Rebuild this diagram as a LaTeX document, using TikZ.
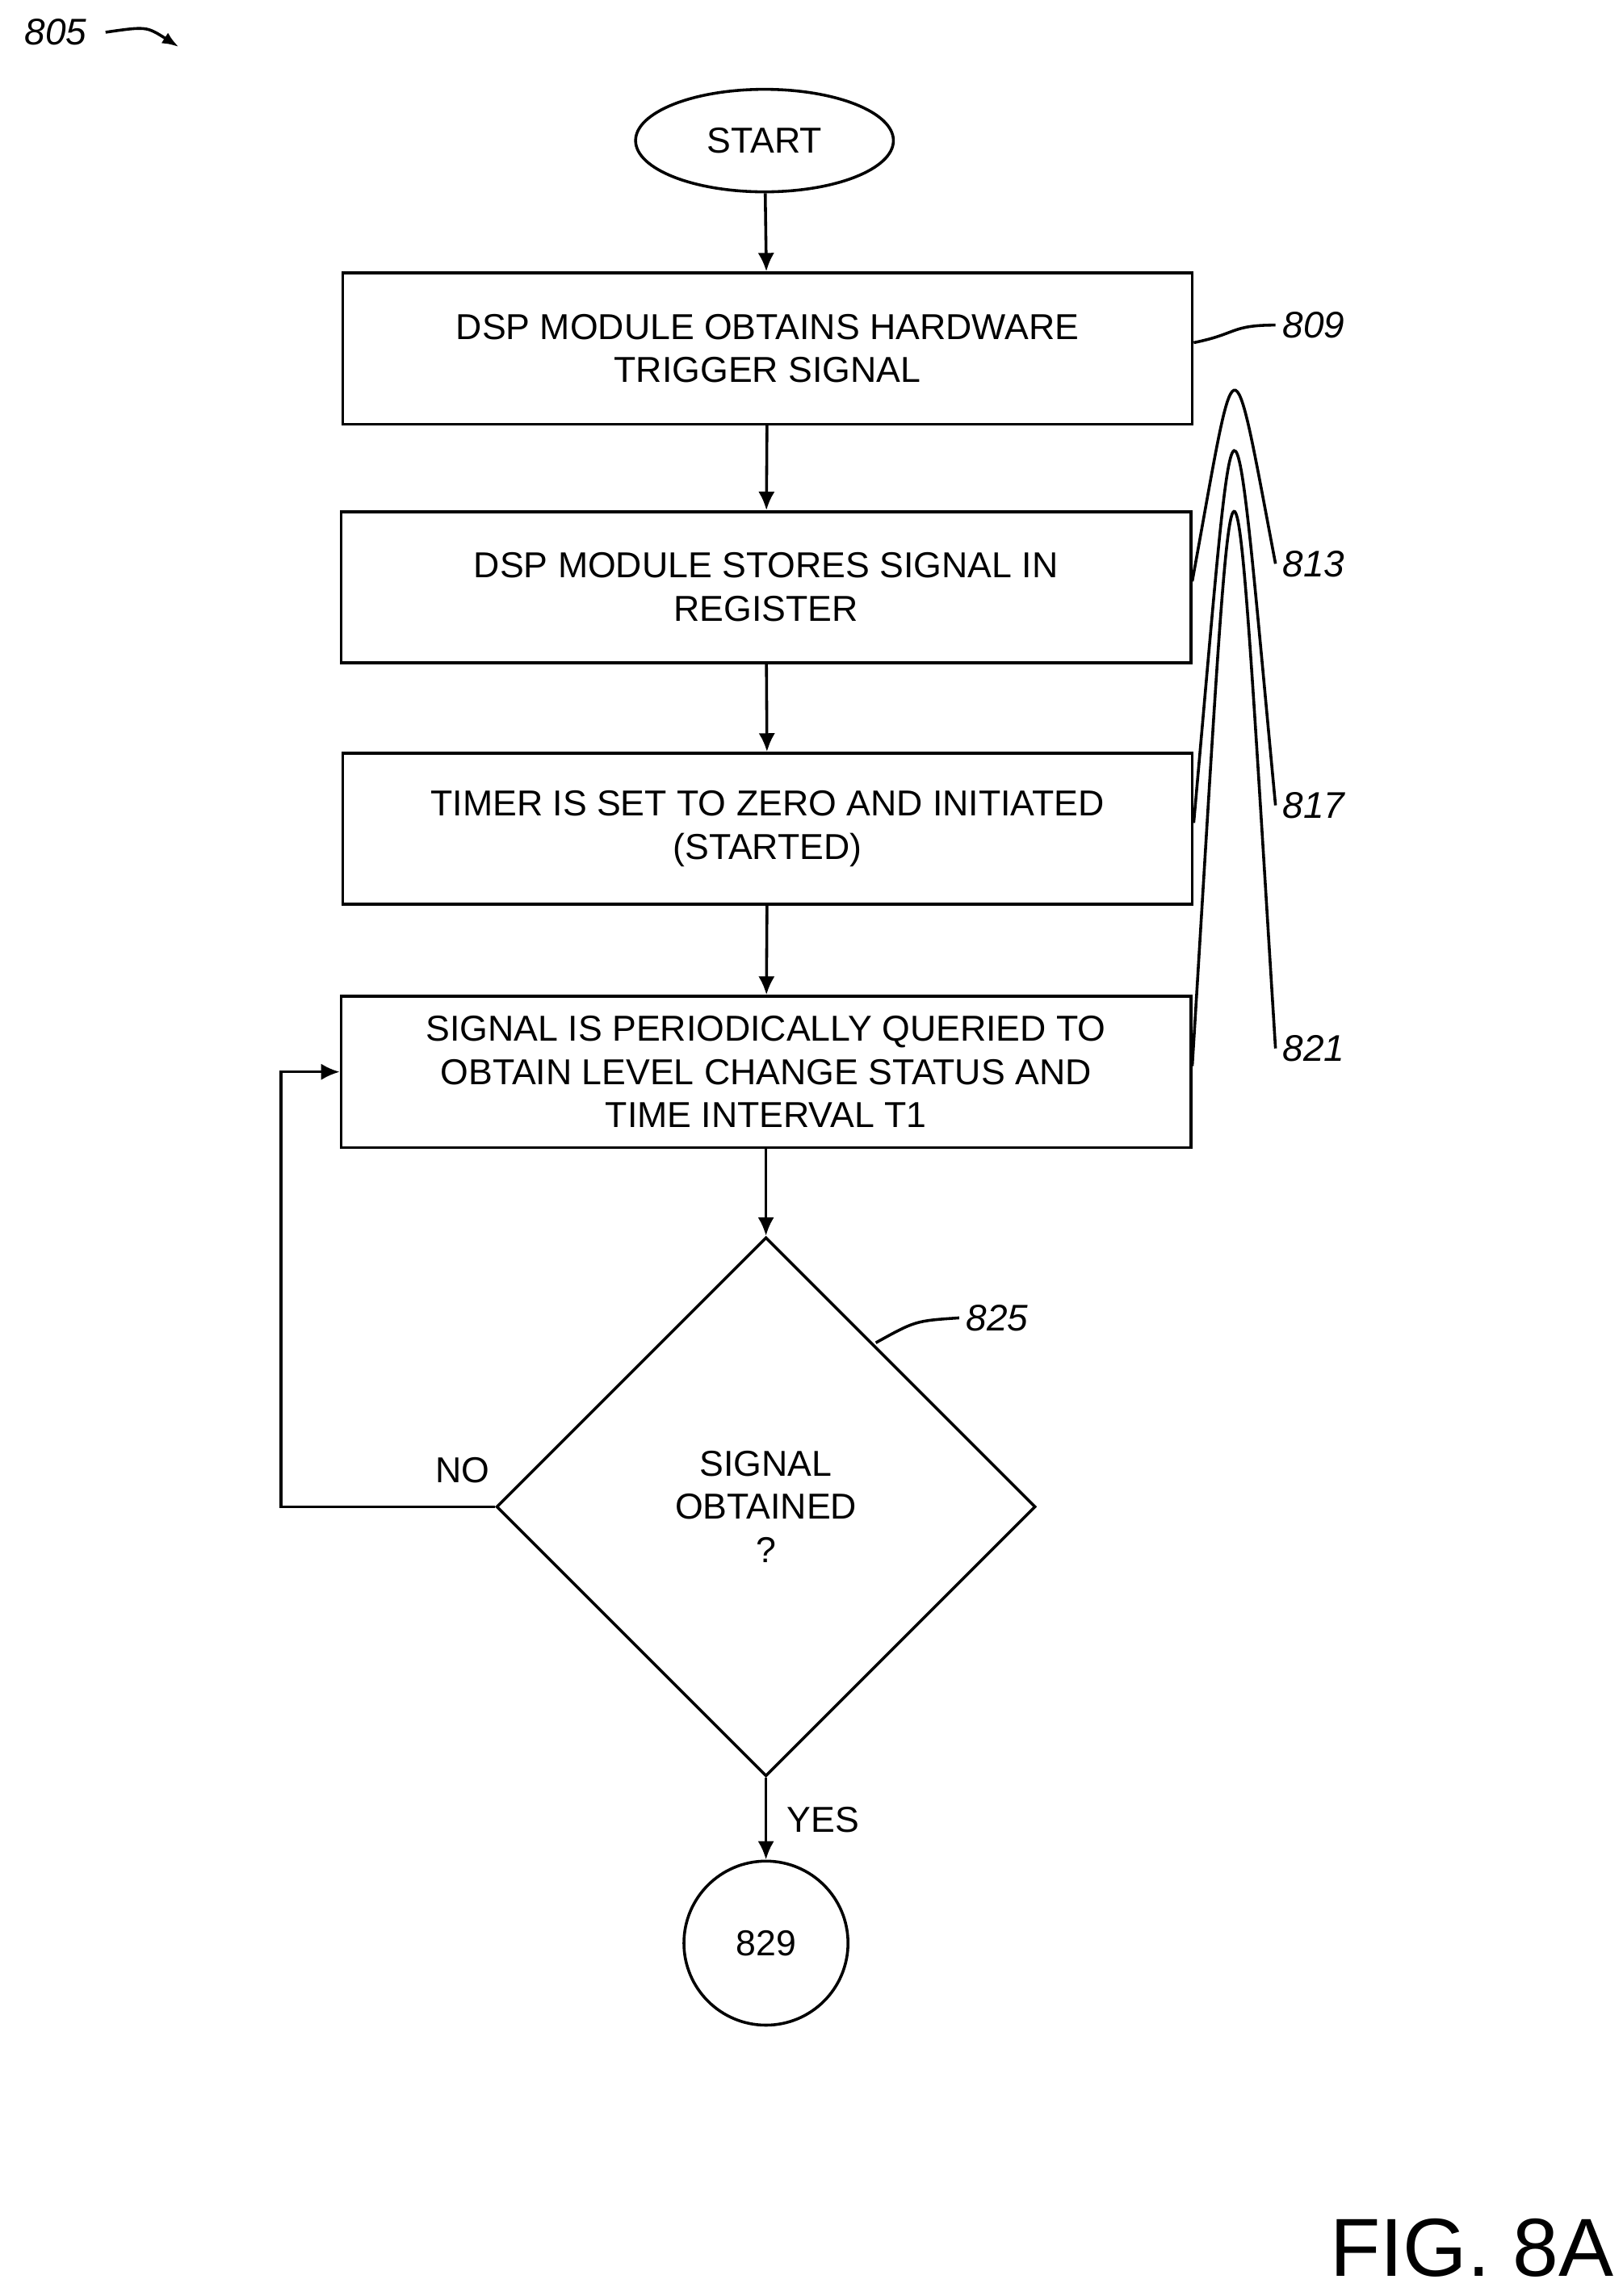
\documentclass[tikz,border=0pt]{standalone}
\usepackage{fontspec}
\setmainfont{Liberation Sans}
\usetikzlibrary{shapes.geometric,positioning,arrows.meta}

\tikzset{
    box/.style={draw, line width=1.4pt, minimum width=14.5cm, minimum height=2.58cm,
        align=center, font=\fontsize{17.5}{21}\selectfont, inner sep=0pt},
    line/.style={line width=1.4pt},
    flow/.style={line, -{Latex[length=9pt,width=8pt]}},
    ref/.style={font=\fontsize{18}{21}\selectfont\itshape},
    lbl/.style={font=\fontsize{17.5}{21}\selectfont}
}

\begin{document}
\begin{tikzpicture}[x=0.025cm, y=-0.025cm]
    \useasboundingbox (0,0) rectangle (1108,1568);

    \node[draw, line width=1.4pt, ellipse, minimum width=4.4cm, minimum height=1.75cm,
        lbl] (start) at (522,96) {START};
    \node[box] (b809) at (524,238) {DSP MODULE OBTAINS HARDWARE\\TRIGGER SIGNAL};
    \node[box] (b813) at (523,401) {DSP MODULE STORES SIGNAL IN\\REGISTER};
    \node[box] (b817) at (524,566) {TIMER IS SET TO ZERO AND INITIATED\\(STARTED)};
    \node[box] (b821) at (523,732) {SIGNAL IS PERIODICALLY QUERIED TO\\OBTAIN LEVEL CHANGE STATUS AND\\TIME INTERVAL T1};
    \node[draw, line width=1.4pt, diamond, minimum width=9.2cm, minimum height=9.2cm,
        inner sep=0pt, align=center, lbl] (d825) at (523,1029) {SIGNAL\\OBTAINED\\?};
    \node[draw, line width=1.4pt, circle, minimum size=2.8cm, lbl] (c829) at (523,1327) {829};

    % reference labels
    \node[ref] (r805) at (38,22) {805};
    \node[ref] (r809) at (897,222) {809};
    \node[ref] (r813) at (897,385) {813};
    \node[ref] (r817) at (897,550) {817};
    \node[ref] (r821) at (897,716) {821};
    \node[ref] (r825) at (681,900) {825};
    \node[lbl] (no) at (316,1004) {NO};
    \node[lbl] (yes) at (562,1243) {YES};
    \node[font=\fontsize{40}{44}\selectfont] (fig) at (1005,1535) {FIG. 8A};

    \coordinate (loop) at (192,1029);

    % connectors
    \draw[flow] (start) -- (b809);
    \draw[flow] (b809) -- (b813);
    \draw[flow] (b813) -- (b817);
    \draw[flow] (b817) -- (b821);
    \draw[flow] (b821) -- (d825);
    \draw[flow] (d825) -- (c829);
    \draw[flow] (d825.west) -- (loop) |- (b821.west);

    % leaders
    \draw[line, -{Latex[length=8pt,width=6pt]}] (r805.east) ++(8,0) .. controls (100,18) .. (122,32);
    \foreach \b in {809,813,817,821}
        \draw[line] (b\b.east) ++(0,-4) .. controls (845,228) and (840,222) .. (r\b.west) ;
    \draw[line] (598,917) .. controls (625,902) .. (r825.west);
\end{tikzpicture}
\end{document}
